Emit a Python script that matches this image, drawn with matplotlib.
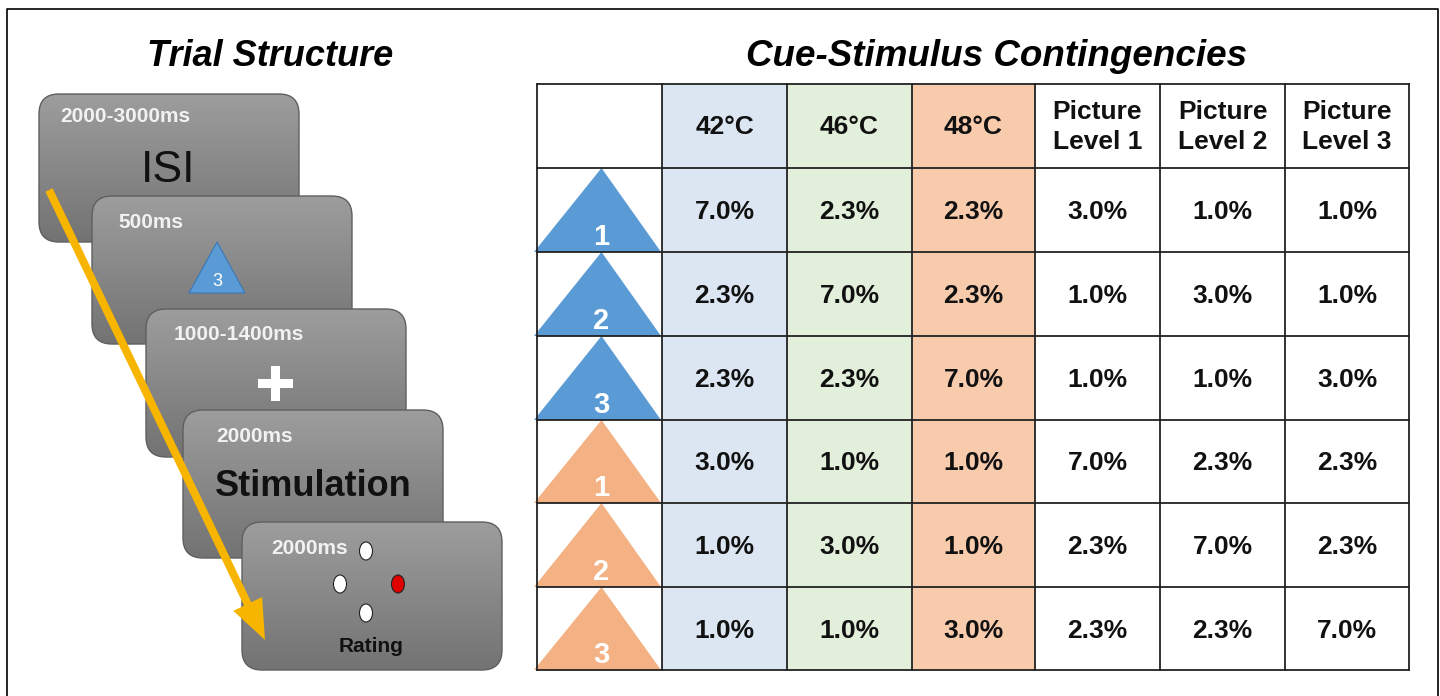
import numpy as np
import matplotlib
matplotlib.use("Agg")
import matplotlib.pyplot as plt
from matplotlib.colors import LinearSegmentedColormap
from matplotlib.patches import FancyBboxPatch, Rectangle, Polygon, Ellipse

plt.rcParams['font.family'] = ['Liberation Sans', 'DejaVu Sans']

# ------------------------------------------------------------------
# --- data
# ------------------------------------------------------------------
stage_durations = ["2000-3000ms", "500ms", "1000-1400ms", "2000ms", "2000ms"]
stage_labels = ["ISI", "", "", "Stimulation", "Rating"]

col_headers = ["42°C", "46°C", "48°C",
               "Picture\nLevel 1", "Picture\nLevel 2", "Picture\nLevel 3"]
cue_numbers = ["1", "2", "3", "1", "2", "3"]
cue_modality = ["pain", "pain", "pain", "picture", "picture", "picture"]
probabilities = [
    [7.0, 2.3, 2.3, 3.0, 1.0, 1.0],
    [2.3, 7.0, 2.3, 1.0, 3.0, 1.0],
    [2.3, 2.3, 7.0, 1.0, 1.0, 3.0],
    [3.0, 1.0, 1.0, 7.0, 2.3, 2.3],
    [1.0, 3.0, 1.0, 2.3, 7.0, 2.3],
    [1.0, 1.0, 3.0, 2.3, 2.3, 7.0],
]

# ------------------------------------------------------------------
# --- styling
# ------------------------------------------------------------------
BLUE_TRI = '#5b9bd5'
ORANGE_TRI = '#f4b183'
tri_colors = {"pain": BLUE_TRI, "picture": ORANGE_TRI}
col_fill = ['#dce6f2', '#e2efda', '#f8cbad', 'white', 'white', 'white']
box_cmap = LinearSegmentedColormap.from_list('box', ['#9d9d9d', '#737373'])

fig = plt.figure(figsize=(14.4, 6.96), dpi=100)
ax = fig.add_axes([0, 0, 1, 1])
ax.set_xlim(0, 1440)
ax.set_ylim(696, 0)
ax.axis('off')

# outer frame (left, top, right)
ax.plot([7, 7, 1438, 1438], [700, 9, 9, 700], color='black', lw=1.2, zorder=1)

# ------------------------------------------------------------------
# --- left panel: trial structure
# ------------------------------------------------------------------
ax.text(270, 56, "Trial Structure", ha='center', va='center',
        fontsize=26, fontweight='bold', fontstyle='italic')

boxes = [(39, 94, 260, 148), (92, 196, 260, 148), (146, 309, 260, 148),
         (183, 410, 260, 148), (242, 522, 260, 148)]
dur_pos = [(60, 116), (118, 223), (174, 334), (216, 436), (271, 549)]

grad = np.linspace(0, 1, 100).reshape(-1, 1)
for i, (x, y, w, h) in enumerate(boxes):
    z = 2 + i * 2
    patch = FancyBboxPatch((x, y), w, h,
                           boxstyle="round,pad=0,rounding_size=20",
                           facecolor='none', edgecolor='#5f5f5f', lw=1.0,
                           zorder=z + 1)
    ax.add_patch(patch)
    img = ax.imshow(grad, extent=(x, x + w, y + h, y), cmap=box_cmap,
                    vmin=0, vmax=1, aspect='auto', zorder=z,
                    interpolation='bilinear')
    img.set_clip_path(patch)
    dx, dy = dur_pos[i]
    ax.text(dx, dy, stage_durations[i], ha='left', va='center',
            fontsize=15, fontweight='bold', color='#f2f2f2', zorder=z + 1)

# ISI
ax.text(168, 170, stage_labels[0], ha='center', va='center', fontsize=32,
        color='#111111', zorder=3)
# cue triangle
ax.add_patch(Polygon([(217, 242), (245, 293), (189, 293)], closed=True,
                     facecolor=BLUE_TRI, edgecolor='#3a78b8', lw=0.8, zorder=5))
ax.text(217, 281, cue_numbers[2], ha='center', va='center', fontsize=13,
        color='white', zorder=5)
# fixation cross
ax.add_patch(Rectangle((258, 379), 35, 9, facecolor='white', zorder=7))
ax.add_patch(Rectangle((271, 366), 9, 35, facecolor='white', zorder=7))
# stimulation
ax.text(313, 486, stage_labels[3], ha='center', va='center', fontsize=26,
        fontweight='bold', color='#111111', zorder=9)
# rating dots
for (cx, cy), fc in zip([(366, 551), (340, 584), (398, 584), (366, 613)],
                        ['white', 'white', '#e00000', 'white']):
    ax.add_patch(Ellipse((cx, cy), 13, 18, facecolor=fc, edgecolor='#222222',
                         lw=0.8, zorder=11))
ax.text(371, 646, stage_labels[4], ha='center', va='center', fontsize=15,
        fontweight='bold', color='#111111', zorder=11)

# time arrow
ax.arrow(49, 190, 265 - 49, 640 - 190, width=8, head_width=32,
         head_length=40, length_includes_head=True, color='#f7b500',
         lw=0, zorder=20)

# ------------------------------------------------------------------
# --- right panel: contingency table
# ------------------------------------------------------------------
ax.text(997, 56, "Cue-Stimulus Contingencies", ha='center', va='center',
        fontsize=26.5, fontweight='bold', fontstyle='italic')

col_x = [537, 662, 787, 912, 1035, 1160, 1285, 1409]
row_y = [84, 168, 252, 336, 420, 503, 587, 670]

# column fills
for j in range(len(col_headers)):
    ax.add_patch(Rectangle((col_x[j + 1], row_y[0]), col_x[j + 2] - col_x[j + 1],
                           row_y[-1] - row_y[0], facecolor=col_fill[j],
                           edgecolor='none', zorder=2))

# cue triangles
for i, (num, mod) in enumerate(zip(cue_numbers, cue_modality)):
    top, bot = row_y[i + 1], row_y[i + 2]
    cx = (col_x[0] + col_x[1]) / 2 + 2
    ax.add_patch(Polygon([(cx, top), (col_x[1] - 1, bot), (col_x[0] - 3, bot)],
                         closed=True, facecolor=tri_colors[mod],
                         edgecolor='none', zorder=3))
    ax.text(cx, bot - 15, num, ha='center', va='center', fontsize=21,
            fontweight='bold', color='white', zorder=4)

# grid lines
for x in col_x:
    ax.plot([x, x], [row_y[0], row_y[-1]], color='#222222', lw=1.3, zorder=5)
for y in row_y:
    ax.plot([col_x[0], col_x[-1]], [y, y], color='#222222', lw=1.3, zorder=5)

# header
for j, hdr in enumerate(col_headers):
    cx = (col_x[j + 1] + col_x[j + 2]) / 2
    ax.text(cx, (row_y[0] + row_y[1]) / 2 + 1, hdr, ha='center', va='center',
            fontsize=19, fontweight='bold', color='#111111',
            linespacing=1.3, zorder=6)

# values
for i, row in enumerate(probabilities):
    cy = (row_y[i + 1] + row_y[i + 2]) / 2 + 2
    for j, v in enumerate(row):
        cx = (col_x[j + 1] + col_x[j + 2]) / 2
        ax.text(cx, cy, f"{v:.1f}%", ha='center', va='center',
                fontsize=19, fontweight='bold', color='#111111', zorder=6)

fig.savefig("out.png", dpi=100)
